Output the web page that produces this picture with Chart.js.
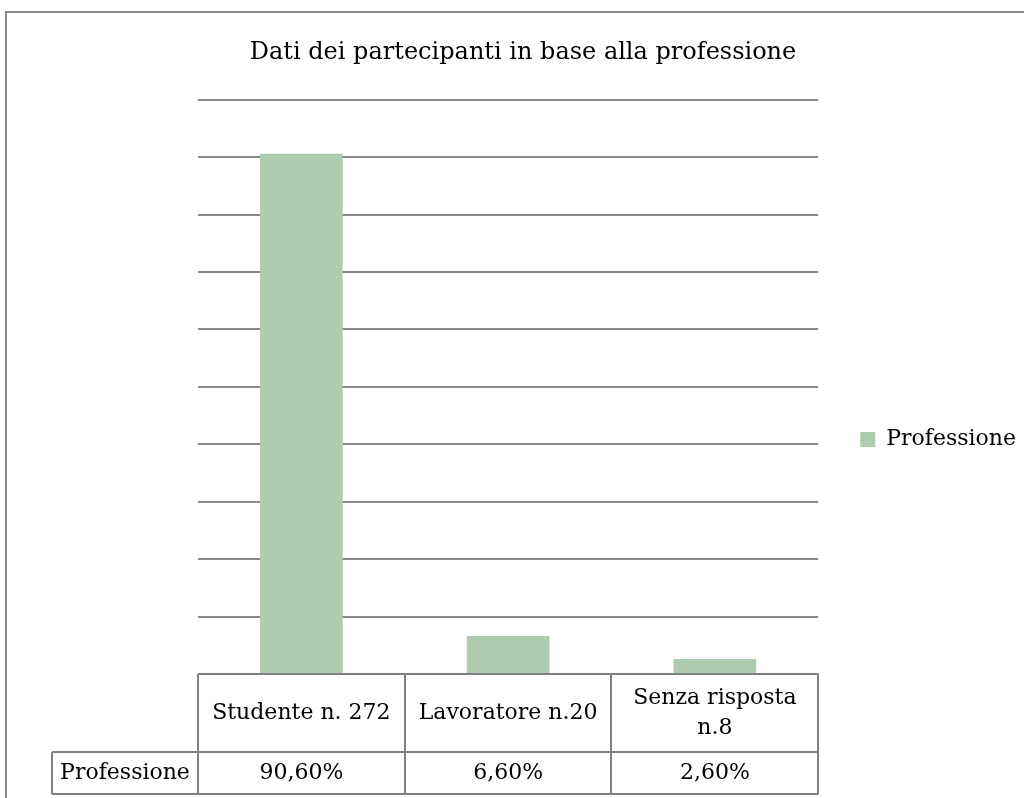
<!DOCTYPE html>
<html lang="it">
<head>
<meta charset="utf-8">
<title>Dati dei partecipanti in base alla professione</title>
<script src="https://cdn.jsdelivr.net/npm/chart.js@4.4.1/dist/chart.umd.min.js"></script>
<style>
    html, body { margin: 0; padding: 0; background: #ffffff; overflow: hidden; }
    #cornice {
        position: absolute;
        left: 5px;
        top: 11px;
        width: 1034px;
        height: 853px;
        border: 2px solid #8a8a8a;
        background: #ffffff;
    }
    #grafico { display: block; }
</style>
</head>
<body>
<div id="cornice">
    <canvas id="grafico" width="1034" height="853"></canvas>
</div>
<script>
// Dati del grafico
const titolo = 'Dati dei partecipanti in base alla professione';
const nomeSerie = 'Professione';
const categorie = ['Studente n. 272', 'Lavoratore n.20', ['Senza risposta', 'n.8']];
const percentuali = [90.6, 6.6, 2.6];
const etichettePercentuali = ['90,60%', '6,60%', '2,60%'];
const asseYMin = 0;
const asseYMax = 100;
const asseYPasso = 10;

const FONT = '"DejaVu Serif", serif';
const COLORE_BARRA = '#aecbb0';
const COLORE_LINEE = '#808080';

Chart.defaults.font.family = FONT;
Chart.defaults.color = '#000000';

/**
 * Tabella dati sotto l'asse X (come in Excel)
 */
const tabellaDati = {
    id: 'tabellaDati',
    afterDraw(chart) {
        const ctx = chart.ctx;
        const area = chart.chartArea;
        const x = chart.scales.x;
        const n = chart.data.labels.length;
        const larghezza = (area.right - area.left) / n;

        const y0 = Math.round(area.bottom);
        const y1 = y0 + 78;
        const y2 = y0 + 120;
        const sinistraIntestazione = 45;

        ctx.save();
        ctx.strokeStyle = COLORE_LINEE;
        ctx.lineWidth = 2;

        // linee orizzontali
        ctx.beginPath();
        ctx.moveTo(area.left, y0); ctx.lineTo(area.right, y0);
        ctx.moveTo(sinistraIntestazione, y1); ctx.lineTo(area.right, y1);
        ctx.moveTo(sinistraIntestazione, y2); ctx.lineTo(area.right, y2);
        // bordo sinistro della cella intestazione
        ctx.moveTo(sinistraIntestazione, y1); ctx.lineTo(sinistraIntestazione, y2);
        // linee verticali delle categorie
        for (let i = 0; i <= n; i++) {
            const px = Math.round(area.left + i * larghezza);
            ctx.moveTo(px, y0); ctx.lineTo(px, y2);
        }
        ctx.stroke();

        // testi
        ctx.fillStyle = '#000000';
        ctx.font = '22px ' + FONT;
        ctx.textAlign = 'center';
        ctx.textBaseline = 'middle';

        const centroRiga1 = (y0 + y1) / 2;
        const centroRiga2 = (y1 + y2) / 2;
        const interlinea = 30;

        chart.data.labels.forEach((etichetta, i) => {
            const cx = x.getPixelForValue(i);
            const righe = Array.isArray(etichetta) ? etichetta : [etichetta];
            righe.forEach((riga, k) => {
                const dy = (k - (righe.length - 1) / 2) * interlinea;
                ctx.fillText(riga, cx, centroRiga1 + dy);
            });
            ctx.fillText(etichettePercentuali[i], cx, centroRiga2);
        });

        ctx.fillText(nomeSerie, (sinistraIntestazione + area.left) / 2, centroRiga2);
        ctx.restore();
    }
};

const ctx = document.getElementById('grafico').getContext('2d');

new Chart(ctx, {
    type: 'bar',
    data: {
        labels: categorie,
        datasets: [{
            label: nomeSerie,
            data: percentuali,
            backgroundColor: COLORE_BARRA,
            borderWidth: 0,
            categoryPercentage: 1.0,
            barPercentage: 0.4
        }]
    },
    options: {
        responsive: false,
        animation: false,
        layout: { padding: { top: 0, left: 13, bottom: 0, right: 15 } },
        plugins: {
            title: {
                display: true,
                text: titolo,
                color: '#000000',
                font: { family: FONT, size: 24, weight: 'normal' },
                padding: { top: 25, bottom: 33 }
            },
            legend: {
                display: true,
                position: 'right',
                labels: {
                    boxWidth: 15,
                    boxHeight: 15,
                    padding: 42,
                    color: '#000000',
                    font: { family: FONT, size: 22 }
                }
            },
            tooltip: { enabled: false }
        },
        scales: {
            x: {
                grid: { display: false },
                border: { display: false },
                ticks: { display: false },
                afterFit(scale) { scale.height = 192; }
            },
            y: {
                min: asseYMin,
                max: asseYMax,
                ticks: { display: false, stepSize: asseYPasso },
                border: { display: false },
                grid: { color: '#8a8a8a', lineWidth: 2, drawTicks: false },
                afterFit(scale) { scale.width = 178; }
            }
        }
    },
    plugins: [tabellaDati]
});
</script>
</body>
</html>
